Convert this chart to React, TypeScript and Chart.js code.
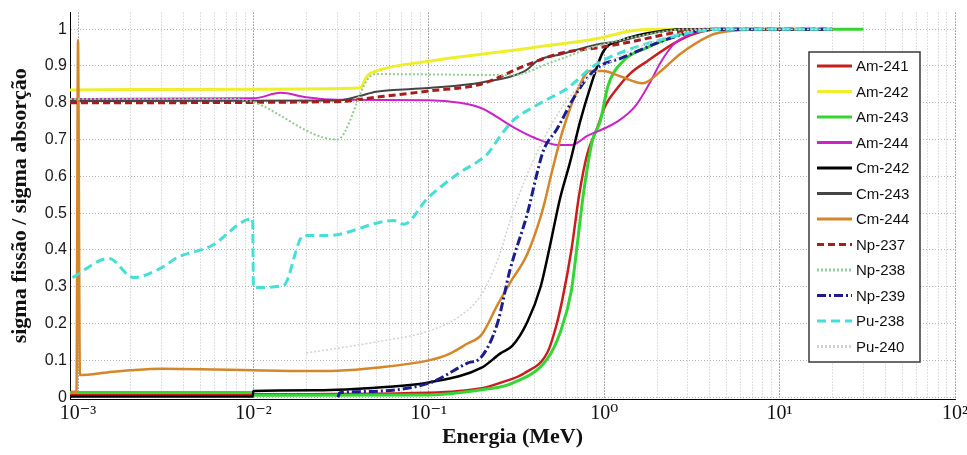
import React, { useEffect, useRef } from 'react';
import { Chart, registerables } from 'chart.js';

Chart.register(...registerables);

// ---------- data (energies in MeV, ratio sigma_f / sigma_a) ----------
const seriesNames = ['Am-241', 'Am-242', 'Am-243', 'Am-244', 'Cm-242', 'Cm-243', 'Cm-244', 'Np-237', 'Np-238', 'Np-239', 'Pu-238', 'Pu-240'];

const am241E = [9e-4, 0.01, 0.1, 0.2, 0.26, 0.35, 0.475, 0.53, 0.576, 0.65, 0.72, 0.8, 0.91, 1.01, 1.19, 1.41, 1.76, 2.47, 3.2, 4.5, 20];
const am241V = [0.008, 0.008, 0.012, 0.024, 0.04, 0.065, 0.122, 0.19, 0.263, 0.4, 0.55, 0.66, 0.73, 0.79, 0.84, 0.88, 0.913, 0.96, 0.986, 1, 1];

const am242E = [9e-4, 0.01, 0.0405, 0.0445, 0.05, 0.1, 0.38, 0.95, 1.4, 2, 20];
const am242V = [0.835, 0.837, 0.84, 0.873, 0.886, 0.913, 0.949, 0.976, 0.995, 1, 1];

const am243E = [9e-4, 0.0099, 0.01, 0.1, 0.2, 0.3, 0.475, 0.56, 0.65, 0.7, 0.76, 0.855, 0.95, 1.05, 1.28, 1.76, 2.28, 2.7, 4, 30];
const am243V = [0.013, 0.013, 0.005, 0.006, 0.02, 0.038, 0.105, 0.175, 0.29, 0.41, 0.55, 0.696, 0.75, 0.845, 0.913, 0.95, 0.973, 0.986, 1, 1];

const am244E = [9e-4, 0.01, 0.0143, 0.02, 0.03, 0.1, 0.15, 0.2, 0.3, 0.4, 0.55, 0.65, 0.8, 1.0, 1.2, 1.5, 1.8, 2.1, 2.5, 3.1, 4, 20];
const am244V = [0.81, 0.812, 0.827, 0.815, 0.808, 0.807, 0.8, 0.785, 0.735, 0.705, 0.685, 0.685, 0.71, 0.73, 0.75, 0.79, 0.85, 0.91, 0.96, 0.986, 1, 1];

const cm242E = [9e-4, 0.0099, 0.01, 0.023, 0.054, 0.1, 0.2, 0.256, 0.3, 0.365, 0.434, 0.49, 0.56, 0.64, 0.73, 0.83, 0.99, 1.23, 2.3, 3, 20];
const cm242V = [0.002, 0.002, 0.017, 0.019, 0.027, 0.04, 0.08, 0.119, 0.14, 0.205, 0.3, 0.41, 0.54, 0.64, 0.75, 0.84, 0.94, 0.968, 0.997, 1, 1];

const cm243E = [9e-4, 0.03, 0.04, 0.05, 0.1, 0.2, 0.35, 0.42, 0.57, 0.9, 1.2, 2.2, 3, 20];
const cm243V = [0.805, 0.806, 0.818, 0.83, 0.84, 0.855, 0.885, 0.915, 0.932, 0.958, 0.967, 0.995, 1, 1];

const cm244E = [9.1e-4, 9.8e-4, 1.0e-3, 1.025e-3, 1.5e-3, 2e-3, 3e-3, 5e-3, 0.01, 0.02, 0.03, 0.05, 0.1, 0.13, 0.165, 0.2, 0.246, 0.29, 0.365, 0.434, 0.46, 0.5, 0.54, 0.58, 0.7, 0.83, 0.99, 1.23, 1.66, 2.1, 2.7, 3.9, 4.5, 7.7, 20];
const cm244V = [0.015, 0.015, 0.97, 0.06, 0.068, 0.073, 0.077, 0.076, 0.073, 0.071, 0.072, 0.08, 0.1, 0.117, 0.145, 0.17, 0.25, 0.31, 0.39, 0.49, 0.534, 0.607, 0.67, 0.724, 0.832, 0.886, 0.886, 0.872, 0.853, 0.886, 0.932, 0.98, 0.99, 1, 1];

const np237E = [9e-4, 0.03, 0.05, 0.1, 0.2, 0.35, 0.57, 1.0, 1.5, 2.5, 4, 20];
const np237V = [0.8, 0.803, 0.815, 0.832, 0.851, 0.9, 0.935, 0.952, 0.968, 0.99, 1, 1];

const np238E = [9e-4, 8e-3, 0.03, 0.045, 0.05, 0.1, 0.3, 0.5, 1, 2, 3, 20];
const np238V = [0.81, 0.81, 0.7, 0.865, 0.878, 0.877, 0.875, 0.91, 0.96, 0.99, 1, 1];

const np239E = [0.0304, 0.031, 0.04, 0.1, 0.165, 0.2, 0.246, 0.29, 0.365, 0.415, 0.45, 0.54, 0.67, 0.8, 0.95, 1.23, 2.15, 3.4, 5, 20];
const np239V = [0.0, 0.012, 0.015, 0.038, 0.092, 0.11, 0.2, 0.345, 0.5, 0.61, 0.67, 0.73, 0.813, 0.867, 0.9, 0.92, 0.968, 0.995, 1, 1];

const pu238E = [9.3e-4, 1.5e-3, 2.07e-3, 2.95e-3, 3.7e-3, 5.7e-3, 9.9e-3, 1.0e-2, 1.48e-2, 1.93e-2, 2.64e-2, 6.3e-2, 7.2e-2, 0.098, 0.116, 0.15, 0.19, 0.215, 0.256, 0.3, 0.4, 0.5, 0.62, 0.87, 1.3, 2.3, 3.5, 5, 20];
const pu238V = [0.325, 0.377, 0.325, 0.35, 0.38, 0.41, 0.485, 0.298, 0.303, 0.439, 0.439, 0.48, 0.47, 0.54, 0.57, 0.61, 0.64, 0.66, 0.71, 0.75, 0.79, 0.815, 0.84, 0.9, 0.94, 0.976, 0.995, 1, 1];

const pu240E = [0.02, 0.05, 0.1, 0.15, 0.2, 0.25, 0.3, 0.4, 0.6, 1, 2, 4, 20];
const pu240V = [0.12, 0.15, 0.18, 0.22, 0.28, 0.38, 0.5, 0.65, 0.8, 0.9, 0.97, 1, 1];

const seriesE = [am241E, am242E, am243E, am244E, cm242E, cm243E, cm244E, np237E, np238E, np239E, pu238E, pu240E];
const seriesV = [am241V, am242V, am243V, am244V, cm242V, cm243V, cm244V, np237V, np238V, np239V, pu238V, pu240V];

// axis ticks
const xDecades = [1e-3, 1e-2, 1e-1, 1e0, 1e1, 1e2];
const xTickLabels = ['10⁻³', '10⁻²', '10⁻¹', '10⁰', '10¹', '10²'];
const xMinorMultipliers = [1, 2, 3, 4, 5, 6, 7, 8, 9];
const yTickValues = [0, 0.1, 0.2, 0.3, 0.4, 0.5, 0.6, 0.7, 0.8, 0.9, 1];
const yTickLabels = ['0', '0.1', '0.2', '0.3', '0.4', '0.5', '0.6', '0.7', '0.8', '0.9', '1'];

// ---------- styles ----------
const seriesColors = ['#c81e1e', '#eeee2a', '#33d633', '#cc22cc', '#000000', '#454545', '#d4862a', '#a81c1c', '#94cc94', '#1c1c8c', '#44e0d8', '#d2d2d2'];
const seriesWidths = [2.5, 3, 3, 2, 2.5, 2, 2.5, 3, 2, 3, 3, 1.5];
const seriesDashes: number[][] = [[], [], [], [], [], [], [], [7, 4], [2, 2], [9, 3, 2, 3], [9, 5], [2, 2]];

const SERIF = '"Liberation Serif", "Times New Roman", "DejaVu Serif", serif';
const SANS = '"Liberation Sans", Arial, Helvetica, sans-serif';

function isDecade(v: number) {
  const l = Math.log10(v);
  return Math.abs(l - Math.round(l)) < 1e-9;
}

const legendPlugin = {
  id: 'boxLegend',
  afterDatasetsDraw(chart: any) {
    const ctx = chart.ctx as CanvasRenderingContext2D;
    const x0 = 809, y0 = 52, w = 111, h = 310;
    ctx.save();
    ctx.fillStyle = '#ffffff';
    ctx.fillRect(x0, y0, w, h);
    ctx.strokeStyle = '#3a3a3a';
    ctx.lineWidth = 1.5;
    ctx.strokeRect(x0, y0, w, h);
    chart.data.datasets.forEach((ds: any, i: number) => {
      const y = 66 + i * 25.5;
      ctx.beginPath();
      ctx.setLineDash(ds.borderDash || []);
      ctx.strokeStyle = ds.borderColor;
      ctx.lineWidth = 3;
      ctx.moveTo(817, y);
      ctx.lineTo(852, y);
      ctx.stroke();
      ctx.setLineDash([]);
      ctx.fillStyle = '#111';
      ctx.font = `15px ${SANS}`;
      ctx.textBaseline = 'middle';
      ctx.textAlign = 'left';
      ctx.fillText(ds.label, 856, y + 1);
    });
    ctx.restore();
  },
};

export default function App() {
  const ref = useRef<HTMLCanvasElement>(null);

  useEffect(() => {
    if (!ref.current) return;
    const datasets = seriesNames.map((name, i) => ({
      label: name,
      data: seriesE[i].map((e, k) => ({ x: e, y: seriesV[i][k] })),
      borderColor: seriesColors[i],
      backgroundColor: seriesColors[i],
      borderWidth: seriesWidths[i],
      borderDash: seriesDashes[i],
      pointRadius: 0,
      fill: false,
      cubicInterpolationMode: 'monotone' as const,
      order: seriesNames.length - i,
    }));

    const xGridValues: number[] = [];
    xDecades.forEach((d, di) => {
      if (di === xDecades.length - 1) {
        xGridValues.push(d);
      } else {
        xMinorMultipliers.forEach((m) => xGridValues.push(d * m));
      }
    });

    const chart = new Chart(ref.current, {
      type: 'line',
      data: { datasets },
      plugins: [legendPlugin],
      options: {
        animation: false,
        responsive: true,
        maintainAspectRatio: false,
        events: [],
        layout: { padding: { top: 11, right: 12, left: 0, bottom: 0 } },
        plugins: {
          legend: { display: false },
          tooltip: { enabled: false },
        },
        scales: {
          x: {
            type: 'logarithmic',
            min: 9e-4,
            max: 100,
            afterBuildTicks: (s: any) => {
              s.ticks = xGridValues.map((v) => ({ value: v }));
            },
            afterFit: (s: any) => {
              s.height = 56;
              s.paddingLeft = 0;
              s.paddingRight = 0;
            },
            ticks: {
              autoSkip: false,
              maxRotation: 0,
              minRotation: 0,
              padding: 3,
              color: '#111',
              font: { family: SERIF, size: 20 },
              callback: (v: any) => {
                const val = Number(v);
                if (!isDecade(val)) return '';
                const idx = xDecades.findIndex((d) => Math.abs(Math.log10(d) - Math.log10(val)) < 1e-9);
                return idx >= 0 ? xTickLabels[idx] : '';
              },
            },
            grid: {
              drawTicks: false,
              lineWidth: 1,
              color: (c: any) => (c.tick && isDecade(c.tick.value) ? '#5a5a5a' : '#c2c2c2'),
            },
            border: { display: true, color: '#000', width: 1, dash: [1, 2] },
            title: {
              display: true,
              text: 'Energia (MeV)',
              color: '#111',
              font: { family: SERIF, size: 22, weight: 'bold' },
              padding: { top: 0, bottom: 4 },
            },
          },
          y: {
            type: 'linear',
            min: -0.005,
            max: 1.045,
            afterBuildTicks: (s: any) => {
              s.ticks = yTickValues.map((v) => ({ value: v }));
            },
            afterFit: (s: any) => {
              s.width = 70;
            },
            ticks: {
              padding: 3,
              color: '#1a1a1a',
              font: { family: SANS, size: 16 },
              callback: (_v: any, i: number) => yTickLabels[i],
            },
            grid: { drawTicks: false, lineWidth: 1, color: '#b4b4b4' },
            border: { display: true, color: '#000', width: 1, dash: [1, 2] },
            title: {
              display: true,
              text: 'sigma fissão / sigma absorção',
              color: '#111',
              font: { family: SERIF, size: 22, weight: 'bold' },
              padding: { top: 7, bottom: 0 },
            },
          },
        },
      } as any,
    });

    return () => chart.destroy();
  }, []);

  return (
    <div style={{ position: 'absolute', left: 0, top: 0, width: 967, height: 455 }}>
      <canvas ref={ref} />
    </div>
  );
}
